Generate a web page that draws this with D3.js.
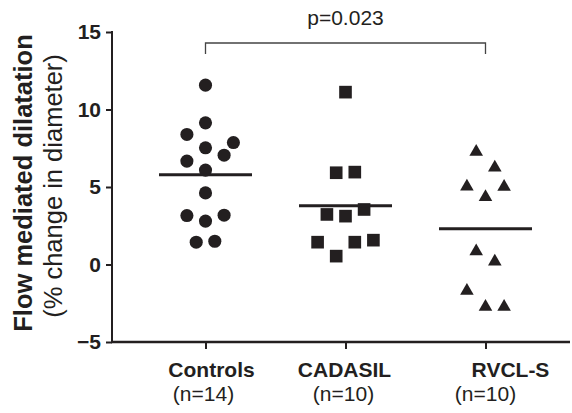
<!DOCTYPE html>
<html>
<head>
<meta charset="utf-8">
<script src="https://cdn.jsdelivr.net/npm/d3@7"></script>
<style>
  body { margin: 0; background: #fff; }
  text { font-family: Arial, "Liberation Sans", sans-serif; fill: #231f20; }
</style>
</head>
<body>
<div id="chart"></div>
<script>
var groups = ["Controls", "CADASIL", "RVCL-S"];
var groupN = ["(n=14)", "(n=10)", "(n=10)"];
var yTicks = [-5, 0, 5, 10, 15];

// values, with the column slot of each point in the swarm
var controls = [11.57, 9.14, 8.39, 7.87, 7.53, 7.05, 6.67, 6.09, 4.62, 3.16, 3.18, 2.8, 1.44, 1.5];
var controlsSlot = [0, 0, -2, 3, 0, 2, -2, 0, 0, -2, 2, 0, -1, 1];
var cadasil = [11.12, 5.92, 5.96, 3.23, 3.12, 3.55, 1.44, 1.44, 1.57, 0.54];
var cadasilSlot = [0, -1, 1, -2, 0, 2, -3, 1, 3, -1];
var rvcls = [7.39, 6.38, 5.16, 5.13, 4.47, 0.97, 0.32, -1.57, -2.61, -2.61];
var rvclsSlot = [-1, 1, -2, 2, 0, -1, 1, -2, 0, 2];

var pLabel = "p=0.023";
var pGroups = ["Controls", "RVCL-S"];

const width = 572;
const height = 413;
var color = "#231f20";
var font = "Arial, 'Liberation Sans', sans-serif";

// labels are not quite centred under the ticks in the original
var catShift = [6, -1, 25];
var nShift = [-2, -2, 0];

var svg = d3.select("#chart").append("svg")
  .attr("width", width)
  .attr("height", height);

var x = d3.scalePoint().domain(groups).range([205.5, 485.5]);
var y = d3.scaleLinear().domain([-5, 15]).range([342, 32]);
// slot -> horizontal offset inside a column
var jitter = d3.scaleLinear().domain([-1, 1]).range([-9.3, 9.3]);

// triangle centred on its bounding box, like the original
var triangle = {
  draw: function (ctx, size) {
    var s = Math.sqrt(size * 4 / Math.sqrt(3));
    var h = s * Math.sqrt(3) / 2;
    ctx.moveTo(0, -h / 2);
    ctx.lineTo(s / 2, h / 2);
    ctx.lineTo(-s / 2, h / 2);
    ctx.closePath();
  }
};

// y axis
var yAxis = svg.append("g")
  .attr("transform", "translate(112,0)")
  .call(d3.axisLeft(y).tickValues(yTicks).tickSize(6).tickSizeOuter(0).tickPadding(5));
yAxis.select(".domain").remove();
yAxis.selectAll(".tick line").attr("stroke", color).attr("stroke-width", 2);
yAxis.selectAll(".tick text")
  .attr("font-size", 21).attr("font-weight", "bold")
  .attr("font-family", font)
  .attr("fill", color);

// x axis
var xAxis = svg.append("g")
  .attr("transform", "translate(0,342)")
  .call(d3.axisBottom(x).tickSize(7).tickSizeOuter(0).tickFormat(""));
xAxis.select(".domain").remove();
xAxis.selectAll(".tick line").attr("stroke", color).attr("stroke-width", 2);

// axis lines
svg.append("line")
  .attr("x1", 112).attr("x2", 112)
  .attr("y1", y(15) - 1).attr("y2", y(-5) + 1)
  .attr("stroke", color).attr("stroke-width", 2);
svg.append("line")
  .attr("x1", 111).attr("x2", 570)
  .attr("y1", y(-5)).attr("y2", y(-5))
  .attr("stroke", color).attr("stroke-width", 2.5);

// category labels
var labels = svg.append("g");
labels.selectAll("text.cat")
  .data(groups)
  .join("text")
  .attr("class", "cat")
  .attr("x", (d, i) => x(d) + catShift[i])
  .attr("y", 377)
  .attr("text-anchor", "middle")
  .attr("font-size", 21)
  .attr("font-weight", "bold")
  .text((d) => d);
labels.selectAll("text.n")
  .data(groups)
  .join("text")
  .attr("class", "n")
  .attr("x", (d, i) => x(d) + nShift[i])
  .attr("y", 401)
  .attr("text-anchor", "middle")
  .attr("font-size", 21)
  .text((d, i) => groupN[i]);

// y title
svg.append("text")
  .attr("transform", "translate(32,183) rotate(-90)")
  .attr("text-anchor", "middle")
  .attr("font-size", 25.5)
  .attr("font-weight", "bold")
  .text("Flow mediated dilatation");
svg.append("text")
  .attr("transform", "translate(62,186) rotate(-90)")
  .attr("text-anchor", "middle")
  .attr("font-size", 25.5)
  .text("(% change in diameter)");

// points
var cols = [
  { g: "Controls", values: controls, slots: controlsSlot, shape: d3.symbolCircle, size: 135 },
  { g: "CADASIL", values: cadasil, slots: cadasilSlot, shape: d3.symbolSquare, size: 160 },
  { g: "RVCL-S", values: rvcls, slots: rvclsSlot, shape: triangle, size: 80 }
];

cols.forEach(function (c) {
  var pts = c.values.map((v, i) => ({ v: v, s: c.slots[i] }));
  svg.append("g")
    .selectAll("path")
    .data(pts)
    .join("path")
    .attr("d", d3.symbol().type(c.shape).size(c.size))
    .attr("transform", (d) => `translate(${x(c.g) + jitter(d.s)},${y(d.v)})`)
    .attr("fill", color);

  // mean line
  var m = d3.mean(c.values);
  svg.append("line")
    .attr("x1", x(c.g) - 46.5)
    .attr("x2", x(c.g) + 46.5)
    .attr("y1", y(m))
    .attr("y2", y(m))
    .attr("stroke", color)
    .attr("stroke-width", 3);
});

// significance bracket
var bx1 = x(pGroups[0]), bx2 = x(pGroups[1]);
svg.append("path")
  .attr("d", `M${bx1},54V43H${bx2}V54`)
  .attr("fill", "none")
  .attr("stroke", "#444")
  .attr("stroke-width", 1.3);
svg.append("text")
  .attr("x", (bx1 + bx2) / 2)
  .attr("y", 25)
  .attr("text-anchor", "middle")
  .attr("font-size", 21)
  .text(pLabel);
</script>
</body>
</html>
